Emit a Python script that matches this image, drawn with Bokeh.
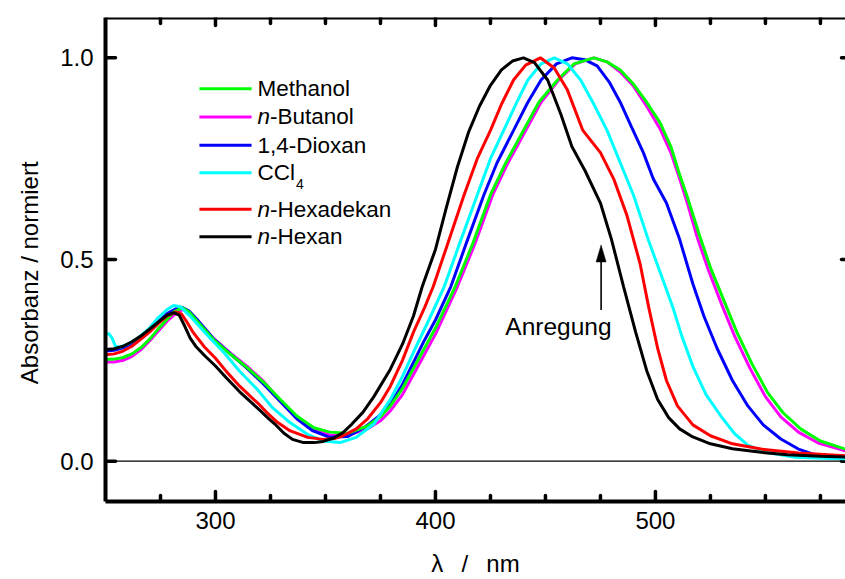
from bokeh.plotting import figure
from bokeh.models import Range1d, FixedTicker, Span, PrintfTickFormatter
from bokeh.core.properties import value
from bokeh.embed import file_html
from bokeh.resources import INLINE

FONT = "Liberation Sans"

# ---------------- data ----------------
x_major_ticks = [300, 400, 500]
x_minor_ticks = [275, 325, 350, 375, 425, 450, 475, 525, 550, 575]
y_major_ticks = [0.0, 0.5, 1.0]

wl_hexan = [250, 254, 258, 262, 266, 270, 274, 278, 281, 283.5, 286, 288.5, 291, 295, 300, 305, 311, 316, 320, 324,
            327, 331, 335, 340, 345, 349, 354, 358, 362, 367, 372, 379.5, 385, 390, 394, 400, 405, 410, 415, 420,
            425, 430, 435, 440, 445, 451, 457, 462, 468, 475, 480, 485.5, 491, 496, 501, 506, 511, 517, 525, 535,
            548, 560, 575, 588]
abs_hexan = [0.277, 0.279, 0.285, 0.296, 0.310, 0.327, 0.345, 0.362, 0.368, 0.362, 0.335, 0.305, 0.285, 0.262, 0.236,
             0.206, 0.172, 0.147, 0.127, 0.106, 0.092, 0.070, 0.054, 0.046, 0.046, 0.049, 0.058, 0.071, 0.092, 0.121,
             0.160, 0.228, 0.290, 0.360, 0.433, 0.525, 0.630, 0.730, 0.815, 0.880, 0.932, 0.970, 0.992, 1.000, 0.988,
             0.945, 0.860, 0.780, 0.720, 0.640, 0.550, 0.433, 0.320, 0.225, 0.153, 0.108, 0.080, 0.060, 0.043, 0.031,
             0.022, 0.016, 0.012, 0.010]

wl_hexadekan = [250, 254, 258, 262, 266, 270, 274, 278, 282, 284.5, 287, 290, 295, 300, 305, 311, 316, 320, 324, 328,
                334, 342, 349, 354, 358, 364, 369, 375, 379.5, 385, 390, 395, 399, 405, 413, 419, 425, 430, 435.5, 441,
                447.7, 454, 460, 467, 475, 481, 487, 493, 497, 501, 505, 510, 517, 525, 535, 548, 565, 588]
abs_hexadekan = [0.264, 0.266, 0.273, 0.285, 0.302, 0.320, 0.341, 0.360, 0.370, 0.365, 0.345, 0.318, 0.283, 0.255,
                 0.222, 0.186, 0.160, 0.140, 0.117, 0.097, 0.075, 0.059, 0.054, 0.056, 0.063, 0.080, 0.104, 0.145,
                 0.186, 0.250, 0.320, 0.380, 0.433, 0.530, 0.660, 0.750, 0.820, 0.885, 0.945, 0.982, 1.000, 0.975,
                 0.920, 0.820, 0.765, 0.700, 0.610, 0.490, 0.380, 0.280, 0.200, 0.137, 0.090, 0.063, 0.043, 0.030,
                 0.020, 0.013]

wl_ccl4 = [250, 251.5, 253, 254.5, 256.5, 260, 265, 270, 274, 278, 281, 284, 288.6, 292, 296, 304, 311, 319, 326, 334,
           342, 349, 356.6, 364, 372, 379.5, 385, 390, 397, 404, 411, 419, 425, 431, 437, 442, 448, 454, 460, 466, 472,
           478, 484, 490, 497, 504.5, 508, 512, 517, 523, 530, 536, 542, 550, 563, 588]
abs_ccl4 = [0.316, 0.316, 0.305, 0.285, 0.282, 0.290, 0.306, 0.330, 0.356, 0.376, 0.386, 0.383, 0.359, 0.338, 0.314,
            0.268, 0.223, 0.178, 0.132, 0.095, 0.066, 0.050, 0.046, 0.059, 0.092, 0.153, 0.210, 0.270, 0.350, 0.433,
            0.540, 0.660, 0.750, 0.820, 0.890, 0.945, 0.985, 1.000, 0.985, 0.945, 0.885, 0.820, 0.740, 0.660, 0.545,
            0.433, 0.380, 0.310, 0.235, 0.165, 0.110, 0.068, 0.040, 0.022, 0.010, 0.005]

wl_dioxan = [250, 254, 258, 262, 266, 270, 274, 278, 282, 285, 288, 292, 299, 307, 314, 322, 330, 337, 344, 352, 360,
             368, 374, 379.5, 385, 390, 395, 400, 407, 414, 422, 428, 435.5, 442, 448, 455, 462, 468, 473.5, 479, 484,
             489, 494.5, 499, 505, 511, 517, 522, 528, 535, 542, 549, 557, 565, 572, 588]
abs_dioxan = [0.273, 0.275, 0.281, 0.292, 0.306, 0.325, 0.346, 0.366, 0.378, 0.381, 0.372, 0.349, 0.304, 0.265, 0.232,
              0.190, 0.145, 0.105, 0.076, 0.059, 0.061, 0.085, 0.110, 0.141, 0.190, 0.245, 0.300, 0.350, 0.433, 0.540,
              0.660, 0.740, 0.820, 0.890, 0.945, 0.985, 1.000, 0.995, 0.980, 0.940, 0.890, 0.830, 0.765, 0.700, 0.640,
              0.550, 0.440, 0.360, 0.280, 0.200, 0.137, 0.090, 0.055, 0.030, 0.017, 0.008]

wl_methanol = [250, 254, 258, 262, 266, 270, 274, 278, 281, 285, 288, 291.7, 299, 306.8, 314.4, 322, 329.5, 337, 344.7,
               352, 360, 369, 375, 379.5, 385, 390, 395, 400, 409, 417, 425, 432, 440, 447, 455.5, 463, 472, 478, 484,
               490, 496, 502, 507, 511, 514.5, 520, 525, 531, 537, 544, 551, 558, 566, 575, 588]
abs_methanol = [0.252, 0.253, 0.257, 0.266, 0.281, 0.302, 0.328, 0.352, 0.370, 0.380, 0.370, 0.347, 0.302, 0.265,
                0.232, 0.195, 0.153, 0.112, 0.083, 0.072, 0.069, 0.087, 0.110, 0.137, 0.180, 0.230, 0.280, 0.330,
                0.433, 0.540, 0.660, 0.740, 0.820, 0.890, 0.945, 0.985, 1.000, 0.990, 0.970, 0.935, 0.890, 0.840,
                0.780, 0.710, 0.655, 0.560, 0.480, 0.400, 0.320, 0.240, 0.170, 0.120, 0.080, 0.050, 0.027]

wl_butanol = [250, 254, 258, 262, 266, 270, 274, 278, 281, 285, 288, 291.7, 299, 306.8, 314.4, 322, 329.5, 337, 344.7,
              352, 360, 369, 375, 379.5, 385, 390, 395, 400, 410, 418, 426, 433, 441, 448, 456, 463.5, 472, 478, 484,
              490, 496, 502, 507, 511, 514.5, 519, 524, 530, 536, 543, 550, 557, 565, 574, 588]
abs_butanol = [0.246, 0.246, 0.250, 0.260, 0.276, 0.298, 0.323, 0.347, 0.362, 0.376, 0.370, 0.350, 0.305, 0.268,
               0.235, 0.197, 0.150, 0.106, 0.076, 0.065, 0.064, 0.080, 0.100, 0.125, 0.165, 0.215, 0.265, 0.315,
               0.433, 0.540, 0.660, 0.740, 0.820, 0.890, 0.945, 0.985, 1.000, 0.990, 0.965, 0.930, 0.880, 0.825,
               0.765, 0.700, 0.640, 0.555, 0.475, 0.390, 0.310, 0.230, 0.160, 0.110, 0.072, 0.045, 0.023]

# drawing order (bottom -> top)
series = [
    (wl_butanol, abs_butanol, "#ff00ff"),
    (wl_dioxan, abs_dioxan, "#0000ff"),
    (wl_methanol, abs_methanol, "#00ff00"),
    (wl_ccl4, abs_ccl4, "#00ffff"),
    (wl_hexadekan, abs_hexadekan, "#ff0000"),
    (wl_hexan, abs_hexan, "#000000"),
]

# ---------------- figure ----------------
X0, X1 = 250, 586.4
Y0, Y1 = -0.1, 1.1
FW, FH = 740, 485
p = figure(width=845, height=579, x_range=Range1d(X0, X1), y_range=Range1d(Y0, Y1),
           output_backend="svg", toolbar_location=None,
           min_border_left=105, min_border_right=0, min_border_top=17, min_border_bottom=77)
p.outline_line_color = None
p.xgrid.visible = False
p.ygrid.visible = False
p.background_fill_color = "white"
p.border_fill_color = "white"

sx = FW / (X1 - X0)   # px per nm
sy = FH / (Y1 - Y0)   # px per unit absorbance

xt = FixedTicker(ticks=x_major_ticks, minor_ticks=x_minor_ticks)
yt = FixedTicker(ticks=y_major_ticks)

xa = p.xaxis[0]
xa.ticker = xt
ya = p.yaxis[0]
ya.ticker = yt
ya.formatter = PrintfTickFormatter(format="%.1f")

for ax in (xa, ya):
    ax.axis_line_width = 4
    ax.axis_line_color = "black"
    ax.major_tick_in = 0
    ax.major_tick_out = 0
    ax.minor_tick_in = 0
    ax.minor_tick_out = 0
    ax.major_tick_line_color = None
    ax.minor_tick_line_color = None
    ax.major_label_text_font = FONT
    ax.major_label_text_font_size = "24px"
    ax.major_label_text_color = "black"
    ax.axis_label_text_font = FONT
    ax.axis_label_text_font_size = "24px"
    ax.axis_label_text_font_style = "normal"
    ax.axis_label_text_color = "black"

ya.major_label_standoff = 12
ya.axis_label = "Absorbanz / normiert\u00a0\u00a0\u00a0\u00a0"
ya.axis_label_standoff = 14
xa.major_label_standoff = 10
xa.axis_label = "λ\u00a0\u00a0\u2009/\u00a0\u00a0\u2009nm"
xa.axis_label_standoff = 18

# top spine
p.add_layout(Span(location=Y1, dimension="width", line_color="black", line_width=4))

# inward ticks, drawn as segments from the tick value lists
nmaj, nmin, ny = len(x_major_ticks), len(x_minor_ticks), len(y_major_ticks)
TK = dict(line_color="black", line_width=3.5, line_cap="round")
# bottom
p.segment(x0=x_major_ticks, x1=x_major_ticks, y0=[Y0] * nmaj, y1=[Y0 + 10 / sy] * nmaj, **TK)
p.segment(x0=x_minor_ticks, x1=x_minor_ticks, y0=[Y0] * nmin, y1=[Y0 + 6 / sy] * nmin, **TK)
# top
p.segment(x0=x_major_ticks, x1=x_major_ticks, y0=[Y1] * nmaj, y1=[Y1 - 8 / sy] * nmaj, **TK)
p.segment(x0=x_minor_ticks, x1=x_minor_ticks, y0=[Y1] * nmin, y1=[Y1 - 6 / sy] * nmin, **TK)
# left
p.segment(x0=[X0] * ny, x1=[X0 + 10 / sx] * ny, y0=y_major_ticks, y1=y_major_ticks, **TK)
# right edge stubs
p.segment(x0=[X1 - 4 / sx] * ny, x1=[X1] * ny, y0=y_major_ticks, y1=y_major_ticks, **TK)

p.add_layout(Span(location=0, dimension="width", line_color="black", line_width=1.3))

for wl, ab, col in series:
    p.line(wl, ab, line_color=col, line_width=3)

# ---------------- legend (drawn by hand) ----------------
leg_x0, leg_x1, leg_tx = 292.7, 316.4, 319.1
leg_y = [0.9235, 0.8534, 0.7834, 0.7149, 0.6247, 0.5562]
leg_cols = ["#00ff00", "#ff00ff", "#0000ff", "#00ffff", "#ff0000", "#000000"]
LFS = "22.5px"
p.segment(x0=[leg_x0] * 6, x1=[leg_x1] * 6, y0=leg_y, y1=leg_y, line_color=leg_cols, line_width=3)


def txt(x, y, s, style="normal", size=LFS, xo=0, yo=0, align="left"):
    p.text(x=[x], y=[y], text=[s], text_font=value(FONT), text_font_size=size, text_font_style=style,
           text_align=align, text_baseline="middle", x_offset=xo, y_offset=yo, text_color="black")


n_w = 12.5
txt(leg_tx, leg_y[0], "Methanol")
txt(leg_tx, leg_y[1], "n", style="italic")
txt(leg_tx, leg_y[1], "-Butanol", xo=n_w)
txt(leg_tx, leg_y[2], "1,4-Dioxan")
txt(leg_tx, leg_y[3], "CCl")
txt(leg_tx, leg_y[3], "4", size="14px", xo=38.5, yo=11.5)
txt(leg_tx, leg_y[4], "n", style="italic")
txt(leg_tx, leg_y[4], "-Hexadekan", xo=n_w)
txt(leg_tx, leg_y[5], "n", style="italic")
txt(leg_tx, leg_y[5], "-Hexan", xo=n_w)

# ---------------- annotation ----------------
arr_x, arr_y0, arr_y1 = 475.3, 0.375, 0.536
head_len, head_half = 17 / sy, 5 / sx
p.line([arr_x, arr_x], [arr_y0, arr_y1 - head_len * 0.8], line_color="black", line_width=1.6)
p.patch([arr_x - head_half, arr_x, arr_x + head_half], [arr_y1 - head_len, arr_y1, arr_y1 - head_len],
        fill_color="black", line_color="black", line_width=0.5)
txt(455.9, 0.333, "Anregung", size="24.5px", align="center")

open("out.html", "w").write(file_html(p, INLINE))
